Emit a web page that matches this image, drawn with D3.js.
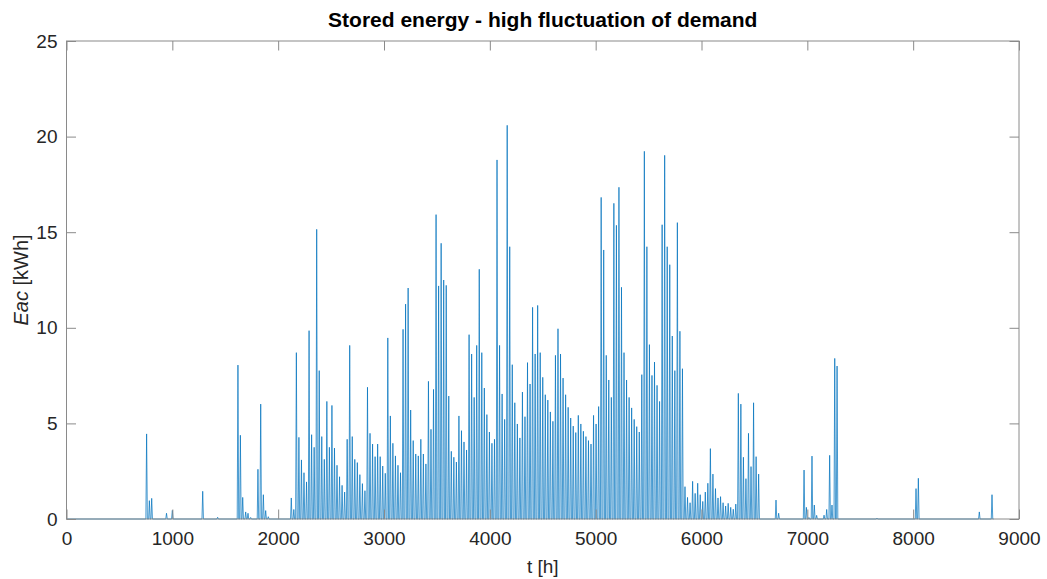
<!DOCTYPE html>
<html>
<head>
<meta charset="utf-8">
<script src="https://cdn.jsdelivr.net/npm/d3@7"></script>
<style>
  html, body { margin: 0; padding: 0; background: #fff; }
  svg { display: block; font-family: "Liberation Sans", Arial, Helvetica, sans-serif; }
</style>
</head>
<body>
<svg id="chart" width="1047" height="579"></svg>
<script>
// ---- Data ----
const xTicks = [0, 1000, 2000, 3000, 4000, 5000, 6000, 7000, 8000, 9000];
const yTicks = [0, 5, 10, 15, 20, 25];

// Daily peaks of stored energy (kWh) in the dense season, consecutive days
const denseStartDay = 88;
const densePeaks = [
  1.1, 0.5, 8.7, 4.27, 3.09, 2.42, 1.94, 9.85, 4.41, 3.75,
  15.15, 7.76, 4.31, 3.12, 6.15, 3.75, 5.94, 3.71, 2.81, 2.21,
  1.76, 1.41, 4.17, 9.08, 4.31, 3.12, 2.95, 2.32, 1.85, 1.48,
  6.89, 4.48, 3.92, 3.26, 3.92, 3.26, 2.77, 2.39, 9.47, 5.39,
  3.96, 3.30, 2.81, 2.42, 9.92, 11.24, 12.08, 5.70, 4.10, 3.40,
  3.30, 4.17, 3.40, 2.88, 7.20, 4.69, 6.78, 15.92, 12.19, 14.42,
  12.5, 12.22, 6.43, 3.54, 3.23, 2.98, 5.39, 4.62, 4.03, 3.61,
  9.64, 8.63, 6.36, 9.08, 13.06, 8.70, 6.85, 5.46, 4.55, 3.96,
  4.17, 18.78, 9.08, 6.54, 5.21, 20.59, 14.24, 8.07, 6.08, 4.97,
  4.24, 6.64, 5.35, 8.18, 7.06, 11.07, 8.63, 11.17, 8.70, 7.41,
  6.50, 6.22, 5.60, 5.11, 8.56, 9.95, 8.63, 7.37, 6.50, 5.84,
  5.28, 4.86, 4.52, 5.42, 4.97, 4.59, 4.31, 4.10, 3.92, 5.42,
  4.97, 5.88, 16.82, 14.07, 8.56, 7.27, 6.36, 16.51, 15.36, 17.35,
  12.12, 8.70, 7.27, 6.36, 5.81, 5.21, 4.83, 4.55, 7.55, 19.23,
  14.24, 9.12, 7.51, 8.21, 6.99, 6.15, 15.39, 19.02, 14.24, 13.30,
  9.57, 7.76, 15.50, 9.82, 7.86, 1.69, 1.13, 0.85, 1.97, 1.34,
  1.87, 1.27, 0.92, 1.41, 1.87, 3.68, 2.35, 1.59, 1.10, 1.17,
  0.85, 0.68, 0.82, 0.61, 0.51, 0.78, 6.57, 6.01, 3.23, 2.11,
  4.48, 2.74, 6.08, 3.26, 2.35
];

// Isolated spikes outside the dense season
const sparseHours = [757, 783, 805, 945, 1000, 1287, 1428, 1620, 1643, 1665, 1693, 1715, 1740,
  1809, 1835, 1860, 1882, 1907,
  6704, 6729, 6969, 6991, 7015, 7044, 7066, 7088, 7158, 7183, 7211, 7233, 7259, 7281,
  7658, 8027, 8049, 8625, 8745];
const sparseValues = [4.45, 0.96, 1.08, 0.3, 0.45, 1.45, 0.09, 8.05, 4.38, 1.13, 0.37, 0.30, 0.08,
  2.60, 6.01, 1.27, 0.44, 0.12,
  0.99, 0.30, 2.56, 0.61, 0.08, 3.29, 0.73, 0.19, 0.2, 0.5, 3.33, 0.73, 8.40, 8.00,
  0.05, 1.59, 2.13, 0.37, 1.27];

const yearHours = 8760;

// ---- Layout ----
const W = 1047, H = 579;
const m = { left: 66.5, right: 1047 - 1019, top: 41, bottom: 579 - 519 };
const svg = d3.select("#chart");

const x = d3.scaleLinear().domain([0, 9000]).range([m.left, W - m.right]);
const y = d3.scaleLinear().domain([0, 25]).range([H - m.bottom, m.top]);

// ---- Build the spike series ----
const spikes = [];
densePeaks.forEach((v, i) => spikes.push({ h: (denseStartDay + i) * 24 + 12, v }));
sparseHours.forEach((h, i) => spikes.push({ h, v: sparseValues[i] }));
spikes.sort((a, b) => a.h - b.h);

const pts = [{ h: 0, v: 0 }];
const hw = 7;
spikes.forEach(s => {
  pts.push({ h: s.h - hw, v: 0 });
  pts.push({ h: s.h, v: s.v });
  pts.push({ h: s.h + hw, v: 0 });
});
pts.push({ h: yearHours, v: 0 });

const line = d3.line().x(d => x(d.h)).y(d => y(d.v));

svg.append("rect").attr("width", W).attr("height", H).attr("fill", "#fff");

svg.append("path")
  .datum(pts)
  .attr("d", line)
  .attr("fill", "none")
  .attr("stroke", "#0072BD")
  .attr("stroke-opacity", 0.85)
  .attr("stroke-width", 0.85)
  .attr("stroke-linejoin", "miter");

// ---- Axes (inward ticks on all four sides, MATLAB style) ----
const axisColor = "#8a8a8a";
const textColor = "#262626";
const tickLen = 9.5;

const gB = svg.append("g").attr("transform", `translate(0,${y(0)})`)
  .call(d3.axisBottom(x).tickValues(xTicks).tickSizeInner(-tickLen).tickSizeOuter(0).tickPadding(13).tickFormat(d3.format("d")));
const gT = svg.append("g").attr("transform", `translate(0,${y(25)})`)
  .call(d3.axisTop(x).tickValues(xTicks).tickSizeInner(-tickLen).tickSizeOuter(0).tickFormat(""));
const gL = svg.append("g").attr("transform", `translate(${x(0)},0)`)
  .call(d3.axisLeft(y).tickValues(yTicks).tickSizeInner(-tickLen).tickSizeOuter(0).tickPadding(9));
const gR = svg.append("g").attr("transform", `translate(${x(9000)},0)`)
  .call(d3.axisRight(y).tickValues(yTicks).tickSizeInner(-tickLen).tickSizeOuter(0).tickFormat(""));

[gB, gT, gL, gR].forEach(g => {
  g.select(".domain").remove();
  g.selectAll(".tick line").attr("stroke", axisColor).attr("stroke-width", 1);
  g.selectAll(".tick text")
    .attr("fill", textColor)
    .style("font-size", "19px")
    .style("font-family", '"Liberation Sans", Arial, sans-serif');
});

// Box
svg.append("rect")
  .attr("x", x(0)).attr("y", y(25))
  .attr("width", x(9000) - x(0)).attr("height", y(0) - y(25))
  .attr("fill", "none").attr("stroke", axisColor).attr("stroke-width", 1);

// ---- Labels ----
svg.append("text")
  .attr("x", (x(0) + x(9000)) / 2).attr("y", 27)
  .attr("text-anchor", "middle")
  .attr("fill", "#000")
  .style("font-size", "21px").style("font-weight", "bold")
  .text("Stored energy - high fluctuation of demand");

svg.append("text")
  .attr("x", (x(0) + x(9000)) / 2).attr("y", 573)
  .attr("text-anchor", "middle")
  .attr("fill", textColor)
  .style("font-size", "19px")
  .text("t [h]");

const yl = svg.append("text")
  .attr("transform", `translate(28,${(y(0) + y(25)) / 2}) rotate(-90)`)
  .attr("text-anchor", "middle")
  .attr("fill", textColor)
  .style("font-size", "20px");
yl.append("tspan").style("font-style", "italic").text("Eac");
yl.append("tspan").text(" [kWh]");
</script>
</body>
</html>
